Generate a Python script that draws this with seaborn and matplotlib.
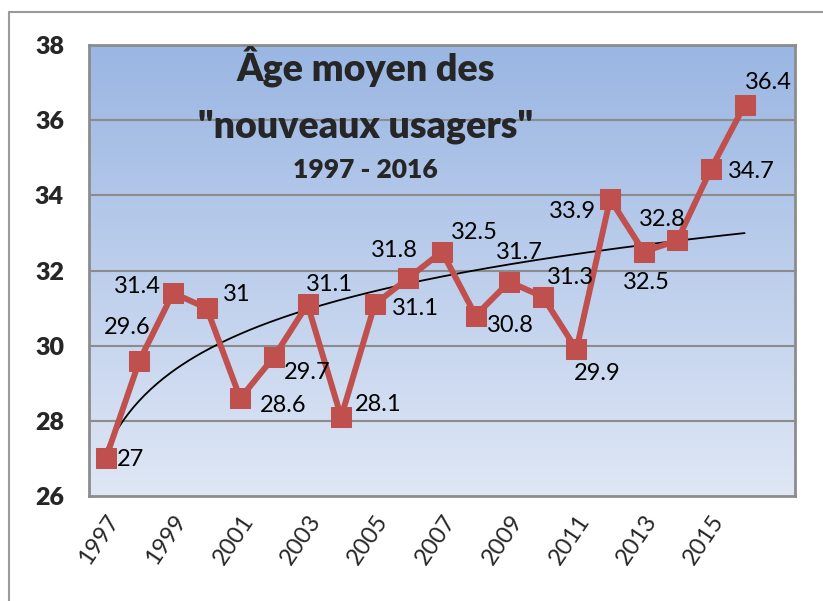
import matplotlib
matplotlib.use("Agg")
import matplotlib.pyplot as plt
import numpy as np
import pandas as pd
import seaborn as sns
from matplotlib.colors import LinearSegmentedColormap
from matplotlib.lines import Line2D

years = list(range(1997, 2017))
ages = [27, 29.6, 31.4, 31, 28.6, 29.7, 31.1, 28.1, 31.1, 31.8,
        32.5, 30.8, 31.7, 31.3, 29.9, 33.9, 32.5, 32.8, 34.7, 36.4]
labels = ["27", "29.6", "31.4", "31", "28.6", "29.7", "31.1", "28.1", "31.1", "31.8",
          "32.5", "30.8", "31.7", "31.3", "29.9", "33.9", "32.5", "32.8", "34.7", "36.4"]
title_lines = ["Âge moyen des", "\"nouveaux usagers\"", "1997 - 2016"]
n_slots = 21  # the category axis has one empty slot after 2016

# label offsets in points (layout only)
label_offsets = [(18, -1), (-9, 24), (-26, 5), (22, 10), (31, -5), (24, -11),
                 (16, 14), (27, 9), (29, -3), (-10, 20), (23, 14), (25, -7),
                 (7, 21), (20, 14), (15, -17), (-27, -9), (2, -22), (-11, 15),
                 (29, -2), (17, 16)]

df = pd.DataFrame({"idx": np.arange(len(years)), "year": years, "age": ages})

sns.set_theme(style="white")
plt.rcParams["font.family"] = ["Lato", "DejaVu Sans"]

fig = plt.figure(figsize=(8.23, 6.01), dpi=100)
ax = fig.add_axes([89 / 823, 1 - 496 / 601, 706 / 823, 451 / 601])

# gradient background
cmap = LinearSegmentedColormap.from_list("bg", ["#dfe7f5", "#9ab6e3"])
grad = np.linspace(0, 1, 256).reshape(-1, 1)
ax.imshow(grad, aspect="auto", cmap=cmap, origin="lower",
          extent=(-0.5, n_slots - 0.5, 26, 38), zorder=0)

for yv in range(28, 38, 2):
    ax.axhline(yv, color="#8c8c8c", lw=1.5, zorder=1)

# logarithmic trend line
xs = np.arange(1, len(ages) + 1)
a, b = np.polyfit(np.log(xs), ages, 1)
xt = np.linspace(1, len(ages), 200)
ax.plot(xt - 1, a * np.log(xt) + b, color="black", lw=1.3, zorder=3)

sns.lineplot(data=df, x="idx", y="age", ax=ax, color="#c0504d", lw=4.3,
             marker="s", markersize=14, markeredgecolor="#c0504d", zorder=4)

for i, (v, t) in enumerate(zip(ages, labels)):
    dx, dy = label_offsets[i]
    ax.annotate(t, (i, v), xytext=(dx, dy), textcoords="offset points",
                ha="center", va="center", fontsize=17, color="black", zorder=5)

ax.set_xlim(-0.5, n_slots - 0.5)
ax.set_ylim(26, 38)
ax.set_yticks(range(26, 40, 2))
ax.set_yticklabels([str(v) for v in range(26, 40, 2)], fontsize=18, fontweight=800)
ax.set_xticks(np.arange(-0.5, n_slots, 1))
ax.set_xticklabels([])
ax.set_xticks(np.arange(0, 20, 2), minor=True)
ax.set_xticklabels([str(y) for y in years[::2]], minor=True, rotation=56,
                   ha="right", rotation_mode="anchor", fontsize=17)
ax.tick_params(axis="x", which="major", length=8, width=1.5, color="#8c8c8c", direction="out")
ax.tick_params(axis="x", which="minor", length=0, pad=11)
ax.tick_params(axis="y", length=8, width=1.5, color="#8c8c8c", direction="out", pad=10)
ax.set_xlabel("")
ax.set_ylabel("")
for s in ax.spines.values():
    s.set_color("#8c8c8c")
    s.set_linewidth(2)

ty = [0.922, 0.794, 0.705]
tsz = [27, 27, 19]
for t, y, sz in zip(title_lines, ty, tsz):
    ax.text(0.392, y, t, transform=ax.transAxes, ha="center", va="baseline",
            fontsize=sz, fontweight=800, zorder=6)

# outer chart border
fig.add_artist(Line2D([9 / 823, 1], [1 - 12 / 601, 1 - 12 / 601], color="#9a9a9a", lw=1.5))
fig.add_artist(Line2D([9 / 823, 9 / 823], [0, 1 - 12 / 601], color="#9a9a9a", lw=1.5))

fig.savefig("out.png", dpi=100)
